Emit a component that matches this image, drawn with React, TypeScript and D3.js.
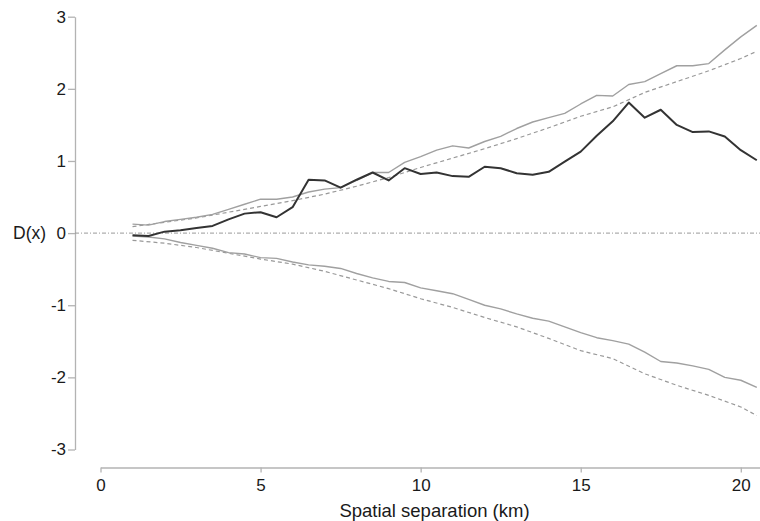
import { useEffect, useRef } from "react";
import * as d3 from "d3";

// separation distances (km) for the observed D(x) and its simulation envelope
const DIST = [
  1, 1.5, 2, 2.5, 3, 3.5, 4, 4.5, 5, 5.5, 6, 6.5, 7, 7.5, 8, 8.5, 9, 9.5, 10, 10.5,
  11, 11.5, 12, 12.5, 13, 13.5, 14, 14.5, 15, 15.5, 16, 16.5, 17, 17.5, 18, 18.5, 19, 19.5, 20, 20.5,
];

const OBSERVED = [
  -0.03, -0.04, 0.02, 0.04, 0.07, 0.1, 0.19, 0.27, 0.29, 0.22, 0.36, 0.74, 0.73, 0.63, 0.74, 0.84, 0.73, 0.9, 0.82, 0.84,
  0.79, 0.78, 0.92, 0.9, 0.83, 0.81, 0.85, 0.99, 1.13, 1.35, 1.55, 1.81, 1.6, 1.71, 1.5, 1.4, 1.41, 1.34, 1.15, 1.01,
];

const ENV_UPPER = [
  0.125, 0.11, 0.16, 0.19, 0.22, 0.26, 0.33, 0.4, 0.47, 0.47, 0.5, 0.57, 0.61, 0.63, 0.73, 0.84, 0.84, 0.98, 1.06, 1.15,
  1.21, 1.18, 1.27, 1.34, 1.45, 1.54, 1.6, 1.66, 1.79, 1.91, 1.9, 2.06, 2.1, 2.21, 2.32, 2.32, 2.35, 2.54, 2.72, 2.88,
];

const ENV_LOWER = [
  -0.04, -0.055, -0.08, -0.13, -0.17, -0.21, -0.27, -0.29, -0.34, -0.35, -0.4, -0.44, -0.46, -0.49, -0.56, -0.62, -0.67, -0.685, -0.76, -0.8,
  -0.84, -0.92, -1.0, -1.05, -1.12, -1.18, -1.22, -1.3, -1.38, -1.45, -1.49, -1.54, -1.65, -1.78, -1.8, -1.84, -1.89, -2.0, -2.04, -2.14,
];

// smooth (dashed) bounds
const DASH_DIST = [1, 2, 3, 4, 5, 6, 7, 8, 9, 10, 11, 12, 13, 14, 15, 16, 17, 18, 19, 20, 20.5];
const DASH_UPPER = [0.09, 0.15, 0.21, 0.29, 0.37, 0.45, 0.54, 0.65, 0.77, 0.91, 1.04, 1.17, 1.31, 1.46, 1.62, 1.75, 1.95, 2.1, 2.25, 2.42, 2.52];
const DASH_LOWER = [-0.1, -0.14, -0.2, -0.28, -0.36, -0.43, -0.53, -0.65, -0.77, -0.91, -1.03, -1.17, -1.3, -1.46, -1.63, -1.74, -1.95, -2.11, -2.25, -2.41, -2.53];

const X_TICKS = [0, 5, 10, 15, 20];
const Y_TICKS = [-3, -2, -1, 0, 1, 2, 3];

const WIDTH = 760;
const HEIGHT = 521;
const FONT = "'Liberation Sans', Arial, Helvetica, sans-serif";

export default function App() {
  const svgRef = useRef<SVGSVGElement>(null);

  useEffect(() => {
    const svg = d3.select(svgRef.current);
    svg.selectAll("*").remove();

    const x = d3.scaleLinear().domain([0, 20.6]).range([100.5, 760]);
    const y = d3.scaleLinear().domain([-3, 3]).range([449.5, 16.7]);

    // plain hyphen minus, no decimals
    const fmt = (d: d3.NumberValue) => String(d);

    // ----- Axes -----
    const yAxisG = svg.append("g")
      .attr("transform", "translate(75,0)")
      .call(d3.axisLeft(y).tickValues(Y_TICKS).tickFormat(fmt).tickSize(7).tickSizeOuter(0).tickPadding(2));

    const xAxisG = svg.append("g")
      .attr("transform", "translate(0,467.5)")
      .call(d3.axisBottom(x).tickValues(X_TICKS).tickFormat(fmt).tickSize(5).tickSizeOuter(0).tickPadding(6));

    [yAxisG, xAxisG].forEach((g) => {
      g.select(".domain").attr("stroke", "#b3b3b3").attr("stroke-width", 1.3);
      g.selectAll(".tick line").attr("stroke", "#b3b3b3").attr("stroke-width", 1.3);
      g.selectAll(".tick text")
        .attr("fill", "#1a1a1a")
        .attr("font-family", FONT)
        .attr("font-size", 17);
    });

    // axis titles
    svg.append("text")
      .attr("x", 13)
      .attr("y", y(0))
      .attr("dy", "0.34em")
      .attr("font-family", FONT)
      .attr("font-size", 17.5)
      .attr("fill", "#1a1a1a")
      .text("D(x)");

    svg.append("text")
      .attr("x", 434.5)
      .attr("y", 516.5)
      .attr("text-anchor", "middle")
      .attr("font-family", FONT)
      .attr("font-size", 18.5)
      .attr("fill", "#1a1a1a")
      .text("Spatial separation (km)");

    // zero reference line (dash-dot)
    svg.append("line")
      .attr("x1", 75).attr("x2", WIDTH)
      .attr("y1", y(0)).attr("y2", y(0))
      .attr("stroke", "#999")
      .attr("stroke-width", 1)
      .attr("stroke-dasharray", "4,2,1,2");

    const line = d3.line<[number, number]>()
      .x((d) => x(d[0]))
      .y((d) => y(d[1]));

    const pairs = (xs: number[], ys: number[]) => xs.map((v, i) => [v, ys[i]] as [number, number]);

    // dashed smooth bounds
    [DASH_UPPER, DASH_LOWER].forEach((vals) => {
      svg.append("path")
        .datum(pairs(DASH_DIST, vals))
        .attr("fill", "none")
        .attr("stroke", "#999")
        .attr("stroke-width", 1.2)
        .attr("stroke-dasharray", "4,3")
        .attr("d", line);
    });

    // simulation envelope
    [ENV_UPPER, ENV_LOWER].forEach((vals) => {
      svg.append("path")
        .datum(pairs(DIST, vals))
        .attr("fill", "none")
        .attr("stroke", "#a0a0a0")
        .attr("stroke-width", 1.4)
        .attr("stroke-linejoin", "round")
        .attr("d", line);
    });

    // observed D(x)
    svg.append("path")
      .datum(pairs(DIST, OBSERVED))
      .attr("fill", "none")
      .attr("stroke", "#333")
      .attr("stroke-width", 2)
      .attr("stroke-linejoin", "round")
      .attr("d", line);
  }, []);

  return (
    <svg
      ref={svgRef}
      width={WIDTH}
      height={HEIGHT}
      style={{ position: "absolute", left: 0, top: 0, background: "#fff" }}
    />
  );
}
